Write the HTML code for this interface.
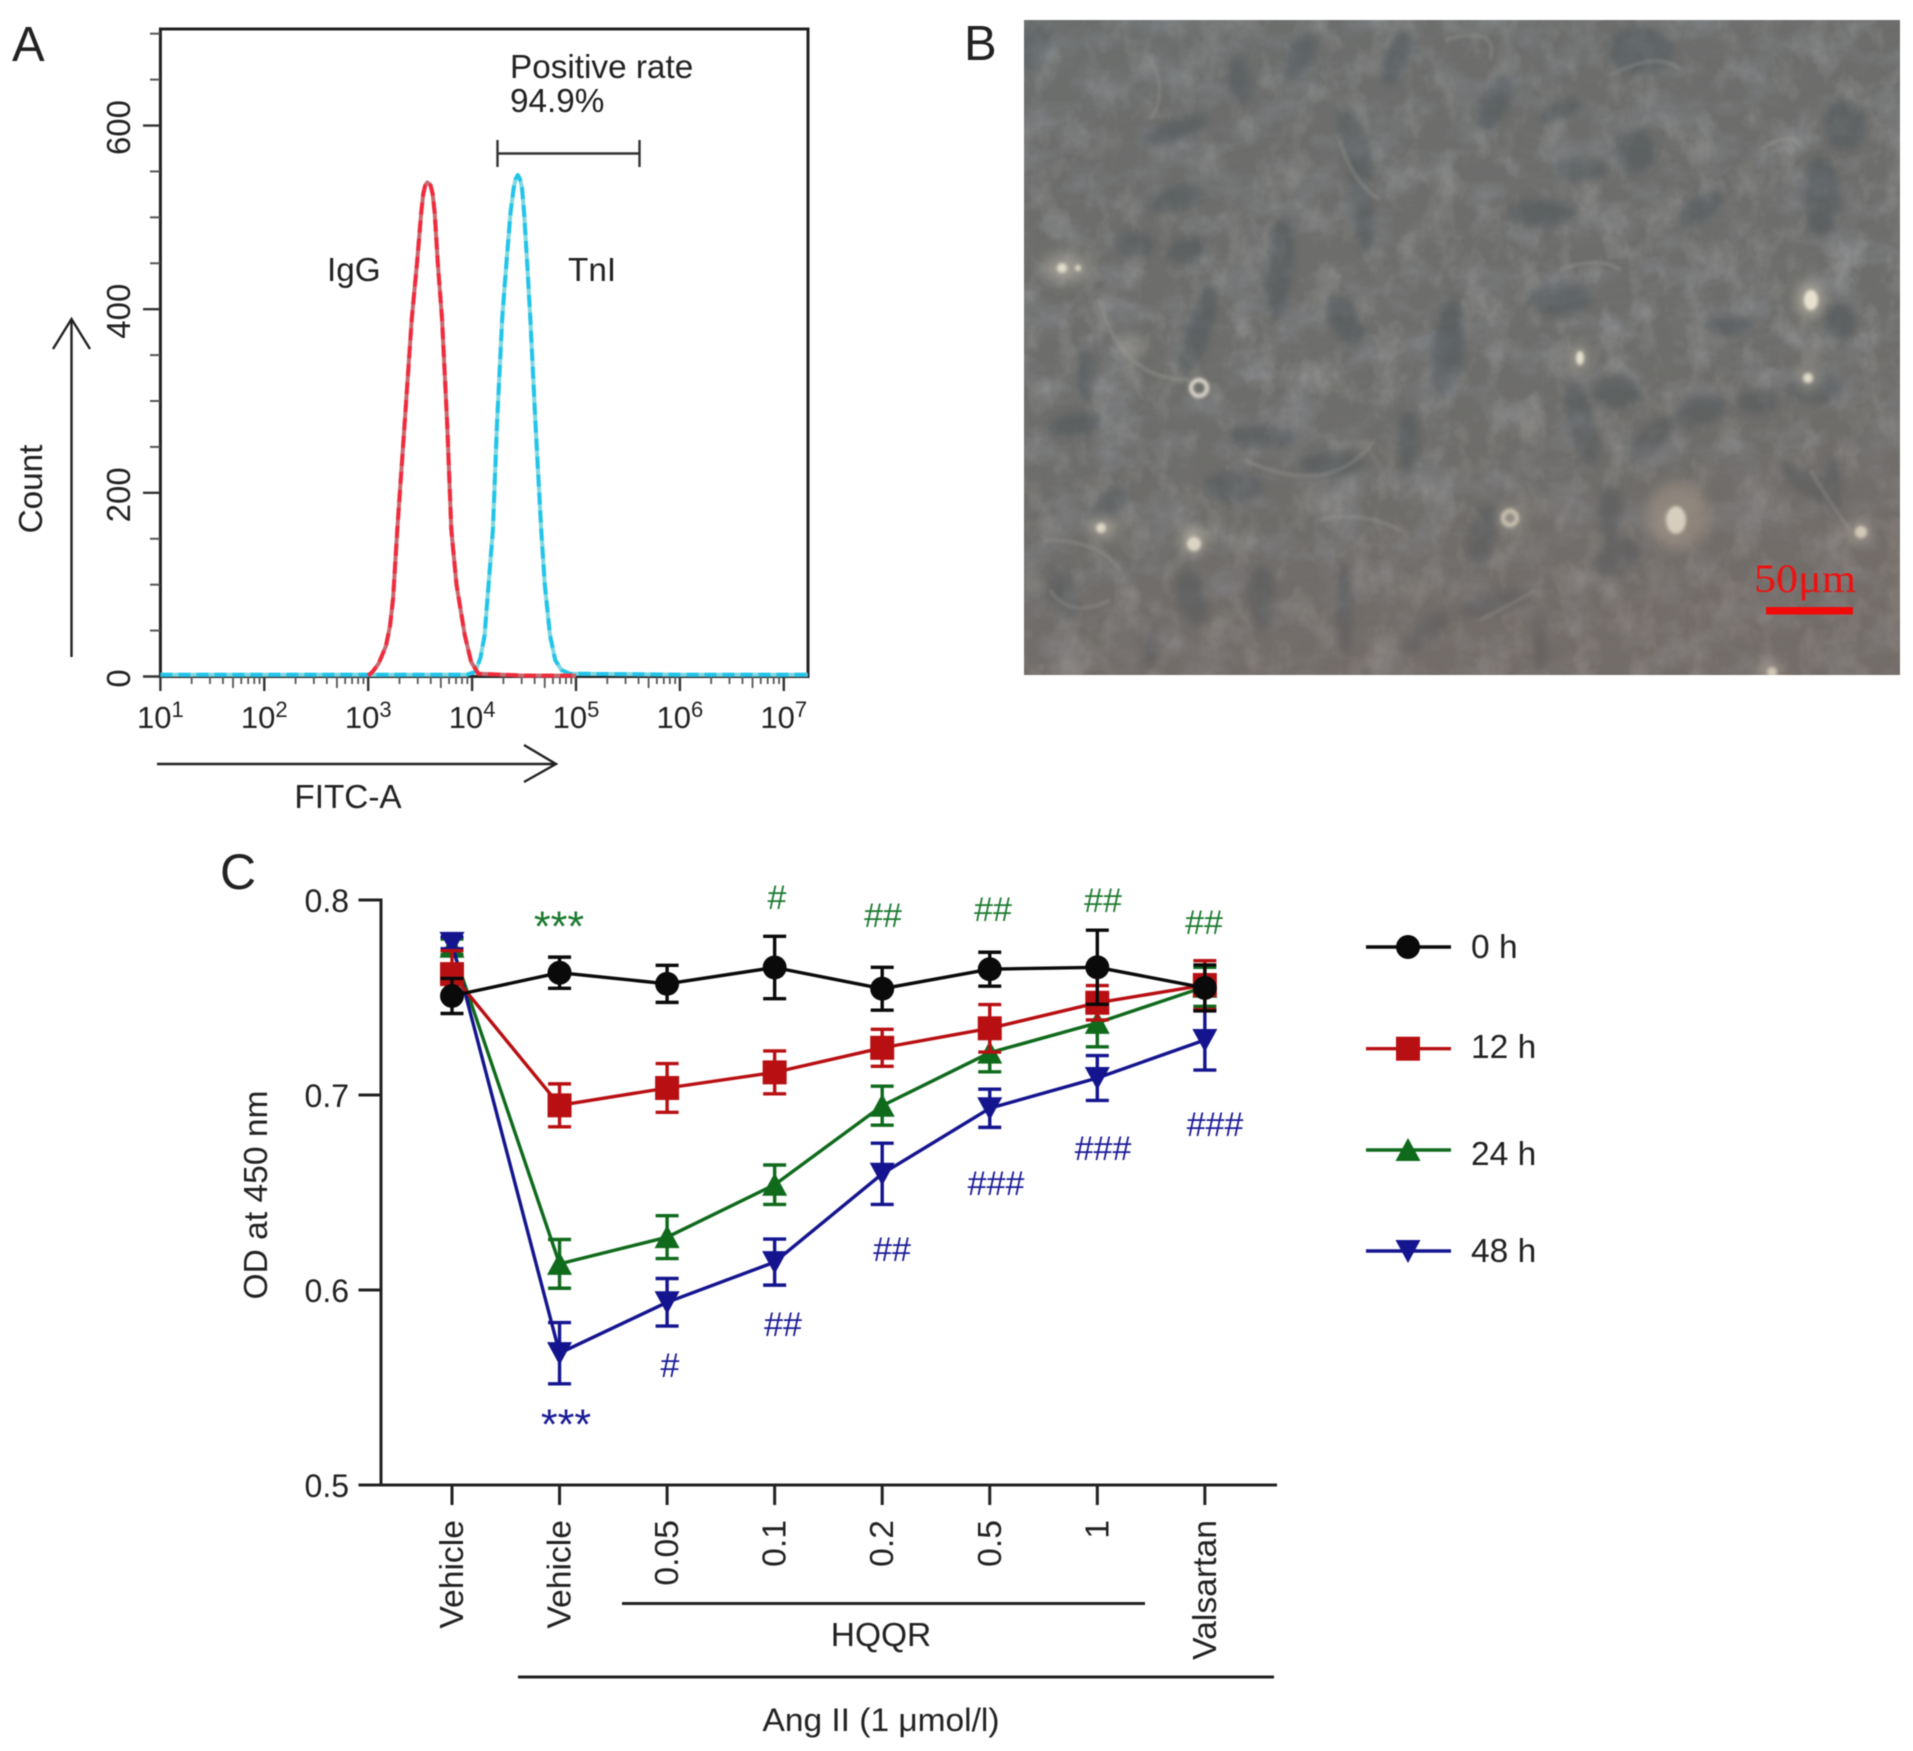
<!DOCTYPE html>
<html lang="en">
<head>
<meta charset="utf-8">
<title>Cardiomyocyte figure: flow cytometry, micrograph and viability chart</title>
<style>
  html,body{margin:0;padding:0;background:#fff;width:1913px;height:1751px;overflow:hidden}
  #fig{display:block;filter:blur(.6px)}
  text{font-family:"Liberation Sans",sans-serif;fill:#222}
</style>
</head>
<body>
<svg id="fig" xmlns="http://www.w3.org/2000/svg" width="1913" height="1751" viewBox="0 0 1913 1751">
  <defs>
    <filter id="mottle-dark" x="0" y="0" width="100%" height="100%">
      <feTurbulence type="fractalNoise" baseFrequency="0.022 0.03" numOctaves="5" seed="11"/>
      <feColorMatrix values="0 0 0 0 .24  0 0 0 0 .25  0 0 0 0 .27  1.5 0 0 0 -.66"/>
    </filter>
    <filter id="mottle-light" x="0" y="0" width="100%" height="100%">
      <feTurbulence type="fractalNoise" baseFrequency="0.035 0.025" numOctaves="5" seed="29"/>
      <feColorMatrix values="0 0 0 0 .66  0 0 0 0 .66  0 0 0 0 .64  1.3 0 0 0 -.6"/>
    </filter>
    <filter id="soft3"><feGaussianBlur stdDeviation="4"/></filter>
    <filter id="soft6"><feGaussianBlur stdDeviation="7"/></filter>
    <filter id="soft2"><feGaussianBlur stdDeviation="1.6"/></filter>
    <linearGradient id="tone" x1="0" y1="0" x2="0.25" y2="1">
      <stop offset="0" stop-color="#667074" stop-opacity=".22"/>
      <stop offset=".55" stop-color="#6a6a68" stop-opacity="0"/>
      <stop offset="1" stop-color="#846c64" stop-opacity=".26"/>
    </linearGradient>
    <clipPath id="photo-clip"><rect x="1024" y="20" width="876" height="655"/></clipPath>
  </defs>
  <rect width="1913" height="1751" fill="#fff"/>

  <!-- PANEL A static text -->
  <text x="12" y="61" font-size="49">A</text>
  <text x="510" y="78" font-size="33.3">Positive rate</text>
  <text x="510" y="112" font-size="33.3">94.9%</text>
  <g stroke="#333" stroke-width="2.4" fill="none">
    <line x1="497.5" y1="153.5" x2="639.5" y2="153.5"/>
    <line x1="497.5" y1="140" x2="497.5" y2="167"/>
    <line x1="639.5" y1="140" x2="639.5" y2="167"/>
  </g>
  <text x="327" y="281" font-size="33.3">IgG</text>
  <text x="568" y="281" font-size="33.3">TnI</text>
  <text transform="translate(42 489) rotate(-90)" text-anchor="middle" font-size="33.3">Count</text>
  <g stroke="#222" stroke-width="2.4" fill="none">
    <line x1="71.5" y1="657" x2="71.5" y2="319"/>
    <polyline points="53,349 71.5,319 90,349"/>
  </g>
  <text x="348" y="808" text-anchor="middle" font-size="33.3">FITC-A</text>
  <g stroke="#222" stroke-width="2.4" fill="none">
    <line x1="157" y1="764" x2="556" y2="764"/>
    <polyline points="524,745 556,764 524,782"/>
  </g>
  <g id="chart-a"></g>

  <!-- PANEL B micrograph approximation -->
  <text x="964" y="60" font-size="49">B</text>
  <g clip-path="url(#photo-clip)">
    <rect x="1024" y="20" width="876" height="655" fill="#6e6e6c"/>
    <rect x="1024" y="20" width="876" height="655" filter="url(#mottle-dark)"/>
    <rect x="1024" y="20" width="876" height="655" filter="url(#mottle-light)" opacity=".45"/>
    <g filter="url(#soft3)" fill="#474f55" opacity=".42">
      <ellipse cx="1035" cy="48" rx="14" ry="24" transform="rotate(15 1035 48)"/>
      <ellipse cx="1239" cy="80" rx="11" ry="24" transform="rotate(-10 1239 80)"/>
      <ellipse cx="1175" cy="130" rx="34" ry="10" transform="rotate(-20 1175 130)"/>
      <ellipse cx="1300" cy="55" rx="12" ry="26" transform="rotate(25 1300 55)"/>
      <ellipse cx="1396" cy="58" rx="12" ry="28" transform="rotate(20 1396 58)"/>
      <ellipse cx="1495" cy="103" rx="13" ry="30" transform="rotate(25 1495 103)"/>
      <ellipse cx="1640" cy="50" rx="32" ry="24"/>
      <ellipse cx="1635" cy="152" rx="20" ry="22"/>
      <ellipse cx="1560" cy="110" rx="22" ry="9" transform="rotate(-20 1560 110)"/>
      <ellipse cx="1355" cy="145" rx="13" ry="40" transform="rotate(-15 1355 145)"/>
      <ellipse cx="1361" cy="210" rx="11" ry="42" transform="rotate(-8 1361 210)"/>
      <ellipse cx="1175" cy="200" rx="28" ry="13" transform="rotate(-15 1175 200)"/>
      <ellipse cx="1134" cy="245" rx="20" ry="13"/>
      <ellipse cx="1186" cy="250" rx="20" ry="12" transform="rotate(-15 1186 250)"/>
      <ellipse cx="1280" cy="268" rx="13" ry="52" transform="rotate(5 1280 268)"/>
      <ellipse cx="1541" cy="214" rx="34" ry="14"/>
      <ellipse cx="1580" cy="170" rx="26" ry="12"/>
      <ellipse cx="1559" cy="299" rx="32" ry="16"/>
      <ellipse cx="1821" cy="196" rx="18" ry="40"/>
      <ellipse cx="1845" cy="125" rx="20" ry="26"/>
      <ellipse cx="1700" cy="210" rx="26" ry="12" transform="rotate(-35 1700 210)"/>
      <ellipse cx="1728" cy="326" rx="24" ry="10"/>
      <ellipse cx="1839" cy="322" rx="16" ry="20"/>
      <ellipse cx="1448" cy="348" rx="16" ry="50" transform="rotate(6 1448 348)"/>
      <ellipse cx="1198" cy="330" rx="13" ry="46" transform="rotate(18 1198 330)"/>
      <ellipse cx="1085" cy="375" rx="9" ry="26"/>
      <ellipse cx="1345" cy="320" rx="14" ry="28" transform="rotate(-30 1345 320)"/>
      <ellipse cx="1617" cy="393" rx="24" ry="16"/>
      <ellipse cx="1582" cy="424" rx="14" ry="42" transform="rotate(-15 1582 424)"/>
      <ellipse cx="1650" cy="440" rx="30" ry="12" transform="rotate(-45 1650 440)"/>
      <ellipse cx="1262" cy="437" rx="34" ry="11"/>
      <ellipse cx="1408" cy="442" rx="11" ry="32"/>
      <ellipse cx="1332" cy="464" rx="32" ry="13"/>
      <ellipse cx="1233" cy="487" rx="30" ry="16"/>
      <ellipse cx="1110" cy="504" rx="24" ry="12" transform="rotate(-40 1110 504)"/>
      <ellipse cx="1075" cy="425" rx="26" ry="12" transform="rotate(-10 1075 425)"/>
      <ellipse cx="1804" cy="482" rx="28" ry="10" transform="rotate(40 1804 482)"/>
      <ellipse cx="1833" cy="487" rx="11" ry="28"/>
      <ellipse cx="1611" cy="513" rx="11" ry="30"/>
      <ellipse cx="1483" cy="536" rx="14" ry="32" transform="rotate(12 1483 536)"/>
      <ellipse cx="1617" cy="558" rx="26" ry="16" transform="rotate(-30 1617 558)"/>
      <ellipse cx="1192" cy="598" rx="15" ry="28" transform="rotate(-15 1192 598)"/>
      <ellipse cx="1064" cy="594" rx="14" ry="28" transform="rotate(-15 1064 594)"/>
      <ellipse cx="1262" cy="598" rx="13" ry="34"/>
      <ellipse cx="1345" cy="610" rx="9" ry="46"/>
      <ellipse cx="1495" cy="603" rx="36" ry="11" transform="rotate(-15 1495 603)"/>
      <ellipse cx="1425" cy="634" rx="30" ry="12" transform="rotate(-40 1425 634)"/>
      <ellipse cx="1815" cy="388" rx="28" ry="16"/>
      <ellipse cx="1699" cy="411" rx="28" ry="15" transform="rotate(-20 1699 411)"/>
      <ellipse cx="1757" cy="402" rx="20" ry="12"/>
      <ellipse cx="1540" cy="640" rx="9" ry="30"/>
      <ellipse cx="1150" cy="650" rx="8" ry="20"/>
    </g>
    <g filter="url(#soft2)" fill="none" stroke="#a0a09b" stroke-width="3" opacity=".45">
      <path d="M1148 55 Q1170 90 1150 120"/>
      <path d="M1445 40 Q1500 25 1490 60"/>
      <path d="M1610 75 Q1660 50 1680 70"/>
      <path d="M1340 140 Q1350 180 1380 200"/>
      <path d="M1760 150 Q1790 130 1800 145"/>
      <path d="M1100 300 Q1120 380 1190 380"/>
      <path d="M1245 460 Q1330 500 1375 440"/>
      <path d="M1045 540 Q1100 540 1120 570"/>
      <path d="M1050 590 Q1070 620 1110 600"/>
      <path d="M1320 520 Q1360 510 1400 530"/>
      <path d="M1560 270 Q1600 255 1620 270"/>
      <path d="M1810 470 Q1835 510 1850 530"/>
      <path d="M1480 620 Q1520 600 1535 590"/>
    </g>
    <g filter="url(#soft6)" fill="#c9c4b4">
      <ellipse cx="1066" cy="268" rx="24" ry="14" opacity=".5"/>
      <ellipse cx="1810" cy="300" rx="13" ry="18" opacity=".7"/>
      <ellipse cx="1133" cy="345" rx="10" ry="10" opacity=".35"/>
      <ellipse cx="1579" cy="358" rx="9" ry="14" opacity=".55"/>
      <ellipse cx="1808" cy="378" rx="11" ry="12" opacity=".55"/>
      <ellipse cx="1103" cy="528" rx="14" ry="10" opacity=".65"/>
      <ellipse cx="1193" cy="540" rx="12" ry="14" opacity=".7"/>
      <ellipse cx="1510" cy="518" rx="10" ry="12" opacity=".6"/>
      <ellipse cx="1678" cy="516" rx="30" ry="34" fill="#b3a494" opacity=".55"/>
      <ellipse cx="1860" cy="532" rx="11" ry="11" opacity=".65"/>
      <ellipse cx="1770" cy="672" rx="12" ry="8" opacity=".65"/>
    </g>
    <g filter="url(#soft2)" fill="#ece6d4">
      <circle cx="1062" cy="268" r="5"/><circle cx="1078" cy="268" r="3"/>
      <ellipse cx="1811" cy="300" rx="7" ry="10"/>
      <circle cx="1199" cy="388" r="8" fill="none" stroke="#e2ded2" stroke-width="4"/>
      <ellipse cx="1580" cy="358" rx="4" ry="7"/>
      <circle cx="1808" cy="378" r="5"/>
      <circle cx="1101" cy="528" r="5"/>
      <circle cx="1194" cy="544" r="7"/>
      <circle cx="1510" cy="518" r="7" fill="none" stroke="#e0d6c2" stroke-width="4"/>
      <ellipse cx="1676" cy="520" rx="10" ry="14"/>
      <circle cx="1861" cy="532" r="6"/>
      <circle cx="1772" cy="672" r="5"/>
    </g>
    <rect x="1024" y="20" width="876" height="655" fill="url(#tone)"/>
    <text x="1754" y="592" font-size="40" textLength="102" lengthAdjust="spacingAndGlyphs" style="font-family:'Liberation Serif',serif;fill:#ee1111">50μm</text>
    <rect x="1766" y="607" width="87" height="7.5" fill="#f00a0a"/>
  </g>

  <!-- PANEL C static text -->
  <text x="220" y="889" font-size="50">C</text>
  <text transform="translate(267 1195) rotate(-90)" text-anchor="middle" font-size="33.5" textLength="209" lengthAdjust="spacingAndGlyphs">OD at 450 nm</text>
  <g><line x1="622" y1="1603.5" x2="1145" y2="1603.5" stroke="#222" stroke-width="3"/></g>
  <text x="881" y="1646" text-anchor="middle" font-size="33.5">HQQR</text>
  <g><line x1="518" y1="1677" x2="1274" y2="1677" stroke="#222" stroke-width="3"/></g>
  <text x="881" y="1731" text-anchor="middle" font-size="32" textLength="237" lengthAdjust="spacingAndGlyphs" style="font-family:'Liberation Sans','DejaVu Sans',sans-serif">Ang II (1 μmol/l)</text>

  <g id="chart-c"></g>

  <g text-anchor="middle" font-size="34">
    <text x="559" y="941" font-size="43" style="fill:#1c7a30">***</text>
    <text x="777" y="909" style="fill:#1c7a30">#</text>
    <text x="883" y="927" style="fill:#1c7a30">##</text>
    <text x="993" y="921" style="fill:#1c7a30">##</text>
    <text x="1103" y="912" style="fill:#1c7a30">##</text>
    <text x="1204" y="934" style="fill:#1c7a30">##</text>
  </g>
  <g text-anchor="middle" font-size="34">
    <text x="566" y="1439" font-size="43" style="fill:#1a1a96">***</text>
    <text x="670" y="1377" style="fill:#1a1a96">#</text>
    <text x="783" y="1336" style="fill:#1a1a96">##</text>
    <text x="892" y="1261" style="fill:#1a1a96">##</text>
    <text x="996" y="1195" style="fill:#1a1a96">###</text>
    <text x="1103" y="1160" style="fill:#1a1a96">###</text>
    <text x="1215" y="1136" style="fill:#1a1a96">###</text>
  </g>
  <g id="legend-c"></g>
</svg>

<script>
/* ---------- Panel A data ---------- */
const countTickValues = [0, 200, 400, 600];
const countMinorValues = [50, 100, 150, 250, 300, 350, 450, 500, 550, 650, 700];
const fitcDecades = [1, 2, 3, 4, 5, 6, 7];
const iggLog = [3.00, 3.04, 3.10, 3.17, 3.21, 3.24, 3.28, 3.35, 3.42, 3.47, 3.51, 3.53, 3.55, 3.57, 3.60, 3.62, 3.64, 3.67, 3.71, 3.76, 3.80, 3.85, 3.93, 3.99, 4.06, 4.50, 5.00];
const iggCount = [1, 5, 14, 33, 55, 85, 160, 275, 390, 450, 505, 526, 535, 538, 535, 526, 505, 450, 390, 275, 160, 100, 45, 16, 3, 1, 1];
const tniLog = [1.00, 3.00, 3.95, 4.03, 4.08, 4.12, 4.20, 4.24, 4.29, 4.33, 4.37, 4.40, 4.42, 4.44, 4.46, 4.48, 4.50, 4.53, 4.56, 4.61, 4.665, 4.70, 4.75, 4.80, 4.86, 4.94, 6.00, 7.23];
const tniCount = [2, 2, 2, 5, 20, 45, 160, 275, 390, 450, 505, 532, 542, 546, 542, 532, 505, 450, 390, 275, 160, 100, 45, 18, 7, 3, 2, 2];

/* ---------- Panel C data ---------- */
const doseCategories = ['Vehicle', 'Vehicle', '0.05', '0.1', '0.2', '0.5', '1', 'Valsartan'];
const odTickLabels = ['0.5', '0.6', '0.7', '0.8'];
const seriesNames = ['24 h', '48 h', '12 h', '0 h'];
const od48h = [0.778, 0.5676, 0.5937, 0.6143, 0.6596, 0.6932, 0.7087, 0.7282];
const err48h = [0.003, 0.0157, 0.0122, 0.0118, 0.0157, 0.0098, 0.0115, 0.0154];
const od24h = [0.776, 0.6134, 0.6271, 0.654, 0.6945, 0.7217, 0.737, 0.7555];
const err24h = [0.004, 0.0125, 0.011, 0.0101, 0.010, 0.0098, 0.0123, 0.010];
const od12h = [0.762, 0.6947, 0.7036, 0.7116, 0.7242, 0.7342, 0.7473, 0.7564];
const err12h = [0.012, 0.011, 0.0125, 0.011, 0.0095, 0.0122, 0.0088, 0.0125];
const od0h = [0.7508, 0.7627, 0.757, 0.7654, 0.7545, 0.7645, 0.7655, 0.7549];
const err0h = [0.009, 0.008, 0.0095, 0.016, 0.011, 0.0087, 0.019, 0.0118];

const NS = 'http://www.w3.org/2000/svg';
function make(tag, attrs, parent) {
  const node = document.createElementNS(NS, tag);
  for (const k in attrs) node.setAttribute(k, attrs[k]);
  parent.appendChild(node);
  return node;
}

/* ---------- Panel A axes ---------- */
const xA = function (logValue) { return 160.4 + (logValue - 1) * 103.9; };
const yA = function (count) { return 676.5 - count * 0.9183; };
const chartA = document.getElementById('chart-a');

const frame = make('rect', {x: 160.4, y: 29, width: 647.6, height: 647.5, fill: 'none', stroke: '#222', 'stroke-width': 3}, chartA);



countTickValues.forEach(function (v) {
  const tick = make('line', {x1: 143, x2: 160, y1: yA(v), y2: yA(v), stroke: '#333', 'stroke-width': 2.4}, chartA);
  
  
  const label = make('text', {transform: 'translate(130 ' + (yA(v) + 2) + ') rotate(-90)', 'text-anchor': 'middle', 'font-size': 33}, chartA);
  label.textContent = String(v);
  
  
});
countMinorValues.forEach(function (v) {
  const tick = make('line', {x1: 150, x2: 160, y1: yA(v), y2: yA(v), stroke: '#555', 'stroke-width': 2}, chartA);
  
  
});
fitcDecades.forEach(function (d) {
  const tick = make('line', {x1: xA(d), x2: xA(d), y1: 677, y2: 691, stroke: '#333', 'stroke-width': 2.4}, chartA);
  
  
  const label = make('text', {x: xA(d), y: 728, 'text-anchor': 'middle', 'font-size': 31}, chartA);
  
  
  label.appendChild(document.createTextNode('10'));
  const sup = make('tspan', {dy: -11, 'font-size': 22}, label);
  sup.textContent = String(d);
  if (d < 7) {
    [2, 3, 4, 5, 6, 7, 8, 9].forEach(function (m) {
      const minor = make('line', {x1: xA(d + Math.log10(m)), x2: xA(d + Math.log10(m)), y1: 677, y2: m === 5 ? 688 : 684, stroke: '#555', 'stroke-width': 1.8}, chartA);
      
      
    });
  }
});

function curvePoints(logs, counts) {
  return logs.map(function (l, i) { return xA(l).toFixed(1) + ',' + yA(counts[i]).toFixed(1); }).join(' ');
}
const tniUnder = make('polyline', {points: curvePoints(tniLog, tniCount), fill: 'none', stroke: '#7fd8e0', 'stroke-width': 4, 'stroke-linejoin': 'round'}, chartA);


const tniCurve = make('polyline', {points: curvePoints(tniLog, tniCount), fill: 'none', stroke: '#22c4ea', 'stroke-width': 4, 'stroke-dasharray': '12 6', 'stroke-linejoin': 'round'}, chartA);


const iggUnder = make('polyline', {points: curvePoints(iggLog, iggCount), fill: 'none', stroke: '#c96a72', 'stroke-width': 4, 'stroke-linejoin': 'round'}, chartA);


const iggCurve = make('polyline', {points: curvePoints(iggLog, iggCount), fill: 'none', stroke: '#ef2b3c', 'stroke-width': 4, 'stroke-dasharray': '12 6', 'stroke-linejoin': 'round'}, chartA);



/* ---------- Panel C axes ---------- */
const xC = function (i) { return 452 + i * 107.55; };
const yC = function (v) { return 1485 - (v - 0.5) * 1950; };
const chartC = document.getElementById('chart-c');

const yAxis = make('line', {x1: 381, x2: 381, y1: yC(0.8) - 1.5, y2: yC(0.5) + 1.5, stroke: '#222', 'stroke-width': 3}, chartC);


const xAxis = make('line', {x1: 358.5, x2: 1277, y1: yC(0.5), y2: yC(0.5), stroke: '#222', 'stroke-width': 3}, chartC);



odTickLabels.forEach(function (t) {
  const v = parseFloat(t);
  const tick = make('line', {x1: 358.5, x2: 381, y1: yC(v), y2: yC(v), stroke: '#222', 'stroke-width': 3}, chartC);
  
  
  const label = make('text', {x: 349, y: yC(v) + 12, 'text-anchor': 'end', 'font-size': 32}, chartC);
  label.textContent = t;
  
  
});
doseCategories.forEach(function (c, i) {
  const tick = make('line', {x1: xC(i), x2: xC(i), y1: yC(0.5), y2: 1505, stroke: '#222', 'stroke-width': 3}, chartC);
  
  
  const label = make('text', {transform: 'translate(' + (xC(i) + 11) + ' 1520) rotate(-90)', 'text-anchor': 'end', 'font-size': 33.7}, chartC);
  label.textContent = c;
  
  
});

/* ---------- Panel C series ---------- */
const seriesValues = [od24h, od48h, od12h, od0h];
const seriesErrors = [err24h, err48h, err12h, err0h];
const seriesColors = ['#0f6a1c', '#14148f', '#b80f12', '#0a0a0a'];
const seriesMarkers = ['up', 'down', 'square', 'circle'];

function drawMarker(kind, cx, cy, color, parent) {
  if (kind === 'circle') return make('circle', {cx: cx, cy: cy, r: 12, fill: color}, parent);
  if (kind === 'square') return make('rect', {x: cx - 12, y: cy - 12, width: 24, height: 24, fill: color}, parent);
  const s = kind === 'up' ? 1 : -1;
  return make('polygon', {points: (cx) + ',' + (cy - 12 * s) + ' ' + (cx - 12.5) + ',' + (cy + 11 * s) + ' ' + (cx + 12.5) + ',' + (cy + 11 * s), fill: color}, parent);
}

seriesValues.forEach(function (values, s) {
  const color = seriesColors[s];
  const group = make('g', {}, chartC);
  
  
  const line = make('polyline', {points: values.map(function (v, i) { return xC(i) + ',' + yC(v).toFixed(1); }).join(' '), fill: 'none', stroke: color, 'stroke-width': 3.4, 'stroke-linejoin': 'round'}, group);
  
  
  values.forEach(function (v, i) {
    const e = seriesErrors[s][i];
    const bar = make('path', {d: 'M' + (xC(i) - 11.5) + ' ' + yC(v + e) + 'H' + (xC(i) + 11.5) + 'M' + (xC(i) - 11.5) + ' ' + yC(v - e) + 'H' + (xC(i) + 11.5) + 'M' + xC(i) + ' ' + yC(v + e) + 'V' + yC(v - e), fill: 'none', stroke: color, 'stroke-width': 3.4}, group);
    
    
    const marker = drawMarker(seriesMarkers[s], xC(i), yC(v), color, group);
    
    
  });
});

/* ---------- Legend ---------- */
const legendNames = ['0 h', '12 h', '24 h', '48 h'];
const legendColors = ['#0a0a0a', '#b80f12', '#0f6a1c', '#14148f'];
const legendMarkers = ['circle', 'square', 'up', 'down'];
const legendRows = [947, 1048.7, 1150, 1251];
const legendLabelBaselines = [958, 1058, 1165, 1262];
const legend = document.getElementById('legend-c');
legendNames.forEach(function (name, i) {
  const row = make('g', {}, legend);
  
  
  const line = make('line', {x1: 1366, x2: 1451, y1: legendRows[i], y2: legendRows[i], stroke: legendColors[i], 'stroke-width': 3.4}, row);
  
  
  const marker = drawMarker(legendMarkers[i], 1408, legendRows[i], legendColors[i], row);
  
  
  const label = make('text', {x: 1471, y: legendLabelBaselines[i], 'font-size': 33.5}, row);
  label.textContent = name;
  
  
});
</script>
</body>
</html>
